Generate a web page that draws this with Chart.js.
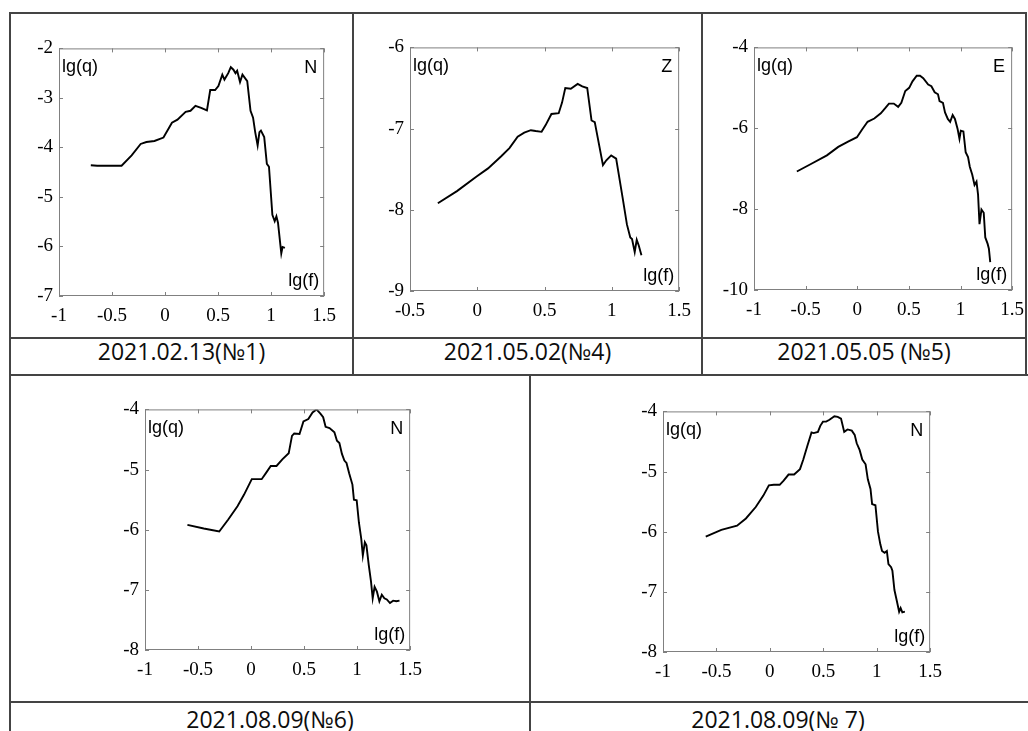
<!DOCTYPE html>
<html>
<head>
<meta charset="utf-8">
<title>lg(q) spectra</title>
<script src="https://cdn.jsdelivr.net/npm/chart.js@4.4.1/dist/chart.umd.min.js"></script>
<style>
  html, body { margin: 0; padding: 0; background: #fff; }
  #page { position: relative; width: 1028px; height: 731px; overflow: hidden; }
  .ln { position: absolute; background: #444; }
  .cap { position: absolute; text-align: center; font-family: "Open Sans", "Noto Sans", sans-serif;
         font-size: 23px; line-height: 23px; color: #0d0d0d; white-space: nowrap; }
  canvas { position: absolute; }
</style>
</head>
<body>
<div id="page">
  <!-- table grid -->
  <div class="ln" style="left:10px;top:12px;width:1017px;height:2px"></div>
  <div class="ln" style="left:10px;top:337px;width:1017px;height:2px"></div>
  <div class="ln" style="left:10px;top:374px;width:1018px;height:2px"></div>
  <div class="ln" style="left:10px;top:701px;width:1018px;height:2px"></div>
  <div class="ln" style="left:9px;top:12px;width:2px;height:719px"></div>
  <div class="ln" style="left:352px;top:12px;width:2px;height:364px"></div>
  <div class="ln" style="left:701px;top:12px;width:2px;height:364px"></div>
  <div class="ln" style="left:1025px;top:12px;width:2px;height:364px"></div>
  <div class="ln" style="left:529px;top:374px;width:2px;height:357px"></div>

  <div class="cap" style="left:10px;width:343px;top:340px">2021.02.13(№1)</div>
  <div class="cap" style="left:353px;width:349px;top:340px">2021.05.02(№4)</div>
  <div class="cap" style="left:702px;width:324px;top:340px">2021.05.05 (№5)</div>
  <div class="cap" style="left:10px;width:520px;top:708px">2021.08.09(№6)</div>
  <div class="cap" style="left:530px;width:496px;top:708px">2021.08.09(№ 7)</div>
</div>

<script>
// lg(f) / lg(q)
const p1Freq = [-0.70, -0.64, -0.41, -0.315, -0.23, -0.176, -0.10, -0.015, 0.065, 0.117, 0.194, 0.24, 0.287, 0.34, 0.395,
  0.426, 0.472, 0.503, 0.54, 0.56, 0.596, 0.62, 0.645, 0.664, 0.68, 0.707, 0.73, 0.775, 0.806, 0.83, 0.85, 0.873,
  0.89, 0.904, 0.935, 0.96, 0.98, 1.012, 1.034, 1.05, 1.065, 1.096, 1.108, 1.13];
const p1Amp = [-4.36, -4.37, -4.37, -4.16, -3.93, -3.89, -3.87, -3.80, -3.50, -3.44, -3.28, -3.26, -3.16, -3.20, -3.25,
  -2.84, -2.84, -2.76, -2.53, -2.63, -2.50, -2.38, -2.43, -2.50, -2.45, -2.68, -2.53, -2.66, -3.26, -3.40, -3.69, -3.96,
  -3.69, -3.66, -3.79, -4.33, -4.39, -5.36, -5.49, -5.39, -5.52, -6.14, -6.01, -6.03];

const p2Freq = [-0.293, -0.151, -0.005, 0.080, 0.178, 0.239, 0.30, 0.349, 0.398, 0.434, 0.478, 0.507, 0.551, 0.605,
  0.63, 0.654, 0.695, 0.746, 0.78, 0.817, 0.849, 0.873, 0.934, 0.959, 0.995, 1.032, 1.08, 1.112, 1.137, 1.15, 1.17,
  1.185, 1.20, 1.22];
const p2Amp = [-7.92, -7.77, -7.59, -7.49, -7.34, -7.24, -7.10, -7.05, -7.02, -7.03, -7.04, -6.96, -6.82, -6.81,
  -6.68, -6.50, -6.51, -6.45, -6.48, -6.50, -6.90, -6.92, -7.45, -7.39, -7.33, -7.37, -7.85, -8.18, -8.34, -8.36, -8.52,
  -8.37, -8.44, -8.56];

const p3Freq = [-0.585, -0.453, -0.294, -0.184, -0.089, -0.003, 0.047, 0.10, 0.165, 0.228, 0.275, 0.307, 0.354, 0.396,
  0.427, 0.465, 0.503, 0.535, 0.576, 0.608, 0.639, 0.687, 0.718, 0.75, 0.782, 0.797, 0.83, 0.85, 0.877, 0.90, 0.924,
  0.946, 0.972, 0.99, 1.003, 1.028, 1.05, 1.073, 1.09, 1.114, 1.136, 1.155, 1.17, 1.184, 1.203, 1.225, 1.24, 1.263,
  1.275, 1.288];
const p3Amp = [-7.07, -6.89, -6.67, -6.46, -6.33, -6.22, -6.03, -5.84, -5.76, -5.63, -5.49, -5.39, -5.39, -5.47,
  -5.37, -5.08, -5.00, -4.84, -4.70, -4.70, -4.76, -4.92, -4.96, -5.11, -5.16, -5.33, -5.37, -5.61, -5.77, -5.84, -5.67,
  -5.77, -6.02, -6.26, -6.06, -6.08, -6.59, -6.71, -6.95, -7.15, -7.40, -7.32, -7.64, -8.37, -8.01, -8.09, -8.70, -8.86,
  -8.98, -9.31];

const p4Freq = [-0.60, -0.446, -0.30, -0.215, -0.128, -0.067, 0.007, 0.10, 0.14, 0.186, 0.24, 0.295, 0.355, 0.386,
  0.407, 0.457, 0.494, 0.54, 0.58, 0.617, 0.654, 0.68, 0.703, 0.74, 0.786, 0.81, 0.833, 0.857, 0.88, 0.90, 0.925,
  0.956, 0.97, 0.996, 1.017, 1.039, 1.054, 1.073, 1.088, 1.11, 1.131, 1.147, 1.165, 1.187, 1.21, 1.233, 1.257, 1.28,
  1.31, 1.34, 1.37, 1.40];
const p4Amp = [-5.92, -5.98, -6.03, -5.83, -5.61, -5.42, -5.16, -5.16, -5.06, -4.94, -4.94, -4.83, -4.73, -4.44,
  -4.40, -4.41, -4.20, -4.16, -4.05, -4.00, -4.07, -4.13, -4.29, -4.31, -4.38, -4.52, -4.56, -4.74, -4.85, -4.89, -5.06,
  -5.25, -5.50, -5.51, -5.88, -6.15, -6.43, -6.21, -6.26, -6.59, -6.86, -7.14, -6.95, -7.03, -7.19, -7.08, -7.14, -7.16,
  -7.22, -7.18, -7.19, -7.18];

const p5Freq = [-0.60, -0.454, -0.307, -0.224, -0.132, -0.061, -0.009, 0.037, 0.092, 0.129, 0.175, 0.227, 0.282,
  0.313, 0.35, 0.39, 0.41, 0.45, 0.472, 0.497, 0.527, 0.558, 0.604, 0.635, 0.666, 0.696, 0.727, 0.767, 0.794, 0.813,
  0.84, 0.865, 0.896, 0.917, 0.942, 0.957, 0.988, 1.012, 1.034, 1.05, 1.074, 1.095, 1.11, 1.135, 1.147, 1.166, 1.187,
  1.21, 1.224, 1.24, 1.264];
const p5Amp = [-6.08, -5.97, -5.90, -5.78, -5.59, -5.40, -5.23, -5.22, -5.22, -5.15, -5.05, -5.05, -4.96, -4.80,
  -4.58, -4.35, -4.36, -4.34, -4.24, -4.17, -4.17, -4.14, -4.08, -4.09, -4.12, -4.34, -4.30, -4.32, -4.39, -4.53, -4.64,
  -4.80, -4.88, -5.13, -5.29, -5.54, -5.56, -6.00, -6.21, -6.32, -6.35, -6.32, -6.54, -6.59, -6.65, -6.97, -7.14, -7.33,
  -7.27, -7.34, -7.33];

// axis ranges [min, max, step]
const p1X = [-1, 1.5, 0.5], p1Y = [-7, -2, 1];
const p2X = [-0.5, 1.5, 0.5], p2Y = [-9, -6, 1];
const p3X = [-1, 1.5, 0.5], p3Y = [-10, -4, 2];
const p4X = [-1, 1.5, 0.5], p4Y = [-8, -4, 1];
const p5X = [-1, 1.5, 0.5], p5Y = [-8, -4, 1];
const components = ['N', 'Z', 'E', 'N', 'N'];

// plot boxes on the page: left, top, right, bottom
const panels = [
  { box: [59, 45, 329, 296], fx: p1Freq, fy: p1Amp, ax: p1X, ay: p1Y, comp: components[0] },
  { box: [410, 44, 684, 291], fx: p2Freq, fy: p2Amp, ax: p2X, ay: p2Y, comp: components[1] },
  { box: [754, 44, 1017, 290], fx: p3Freq, fy: p3Amp, ax: p3X, ay: p3Y, comp: components[2] },
  { box: [145, 406, 415, 650], fx: p4Freq, fy: p4Amp, ax: p4X, ay: p4Y, comp: components[3] },
  { box: [663, 408, 935, 652], fx: p5Freq, fy: p5Amp, ax: p5X, ay: p5Y, comp: components[4] }
];

const PAD_L = 50, PAD_T = 14, PAD_R = 16, PAD_B = 34;
const tickFont = { family: '"Liberation Serif", "Times New Roman", serif', size: 19 };
const plainNum = v => String(Math.round(v * 100) / 100);

// matlab-like box with inward ticks + in-plot labels
const framePlugin = {
  id: 'frame',
  afterDatasetsDraw(chart, args, opts) {
    const { ctx, chartArea: a, scales: { x, y } } = chart;
    ctx.save();
    ctx.strokeStyle = '#808080';
    ctx.lineWidth = 1;
    ctx.strokeRect(a.left + 0.5, a.top + 0.5, a.width - 1, a.height - 1);
    ctx.beginPath();
    x.ticks.forEach(t => {
      const px = Math.round(x.getPixelForValue(t.value)) + 0.5;
      ctx.moveTo(px, a.bottom); ctx.lineTo(px, a.bottom - 4);
      ctx.moveTo(px, a.top); ctx.lineTo(px, a.top + 4);
    });
    y.ticks.forEach(t => {
      const py = Math.round(y.getPixelForValue(t.value)) + 0.5;
      ctx.moveTo(a.left, py); ctx.lineTo(a.left + 4, py);
      ctx.moveTo(a.right, py); ctx.lineTo(a.right - 4, py);
    });
    ctx.stroke();

    ctx.fillStyle = '#000';
    ctx.font = '18px "Liberation Sans", Arial, sans-serif';
    ctx.textBaseline = 'alphabetic';
    ctx.textAlign = 'left';
    ctx.fillText('lg(q)', a.left + 3, a.top + 24);
    ctx.textAlign = 'right';
    ctx.fillText(opts.comp, a.right - 7, a.top + 25);
    ctx.fillText('lg(f)', a.right - 5, a.bottom - 10);
    ctx.restore();
  }
};

const page = document.getElementById('page');

panels.forEach(p => {
  const [l, t, r, b] = p.box;
  const cv = document.createElement('canvas');
  cv.width = r - l + PAD_L + PAD_R;
  cv.height = b - t + PAD_T + PAD_B;
  cv.style.left = (l - PAD_L) + 'px';
  cv.style.top = (t - PAD_T) + 'px';
  page.appendChild(cv);

  new Chart(cv, {
    type: 'scatter',
    data: {
      datasets: [{
        data: p.fx.map((v, i) => ({ x: v, y: p.fy[i] })),
        showLine: true,
        borderColor: '#000',
        borderWidth: 1.9,
        pointRadius: 0,
        tension: 0,
        fill: false
      }]
    },
    options: {
      responsive: false,
      animation: false,
      events: [],
      layout: { padding: { left: 0, top: PAD_T, right: PAD_R, bottom: 0 } },
      plugins: { legend: { display: false }, tooltip: { enabled: false }, frame: { comp: p.comp } },
      scales: {
        x: {
          type: 'linear', min: p.ax[0], max: p.ax[1],
          ticks: { stepSize: p.ax[2], font: tickFont, color: '#000', padding: 9, maxRotation: 0, autoSkip: false, callback: plainNum },
          grid: { display: false, drawTicks: false },
          border: { display: false },
          afterFit: s => { s.height = PAD_B; }
        },
        y: {
          type: 'linear', min: p.ay[0], max: p.ay[1],
          ticks: { stepSize: p.ay[2], font: tickFont, color: '#000', padding: 6, autoSkip: false, callback: plainNum },
          grid: { display: false, drawTicks: false },
          border: { display: false },
          afterFit: s => { s.width = PAD_L; }
        }
      }
    },
    plugins: [framePlugin]
  });
});
</script>
</body>
</html>
